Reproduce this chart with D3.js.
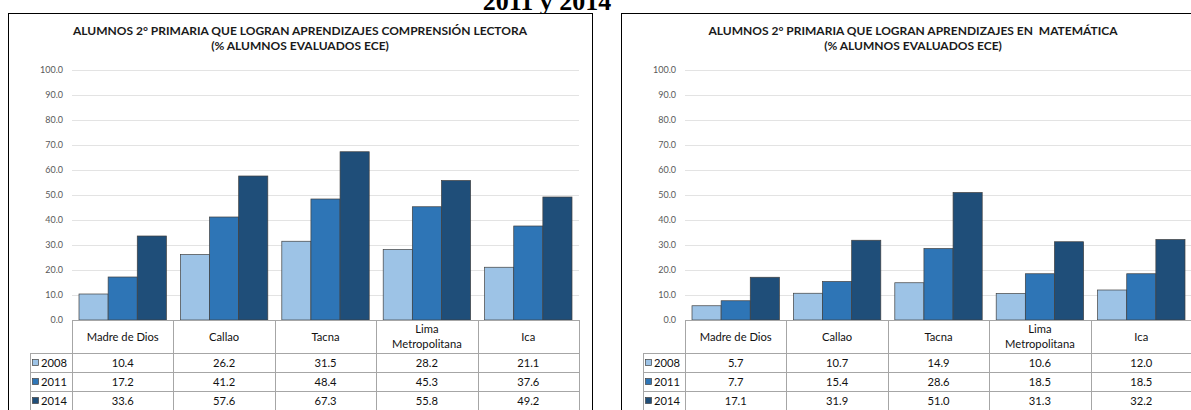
<!DOCTYPE html>
<html>
<head>
<meta charset="utf-8">
<script src="https://cdn.jsdelivr.net/npm/d3@7"></script>
<style>
  html, body { margin: 0; padding: 0; background: #fff; }
  svg { display: block; }
</style>
</head>
<body>
<svg id="chart" width="1191" height="410"></svg>
<script>
// Regions and years shown in both panels
const categories = ["Madre de Dios", "Callao", "Tacna", "Lima Metropolitana", "Ica"];
const years = ["2008", "2011", "2014"];

// Comprensión lectora (% alumnos evaluados ECE)
const lectura2008 = [10.4, 26.2, 31.5, 28.2, 21.1];
const lectura2011 = [17.2, 41.2, 48.4, 45.3, 37.6];
const lectura2014 = [33.6, 57.6, 67.3, 55.8, 49.2];

// Matemática (% alumnos evaluados ECE)
const mate2008 = [5.7, 10.7, 14.9, 10.6, 12.0];
const mate2011 = [7.7, 15.4, 28.6, 18.5, 18.5];
const mate2014 = [17.1, 31.9, 51.0, 31.3, 32.2];

const yTicks = [0, 10, 20, 30, 40, 50, 60, 70, 80, 90, 100];

const colors = { "2008": "#9dc3e6", "2011": "#2e75b6", "2014": "#1f4e79" };
const fontUI = "Lato, 'Open Sans', sans-serif";

const svg = d3.select("#chart");

// Heading fragment above both panels
svg.append("text")
  .attr("x", 547).attr("y", 10)
  .attr("text-anchor", "middle")
  .attr("font-family", "'Liberation Serif', 'Times New Roman', serif")
  .attr("font-weight", "bold")
  .attr("font-size", 26)
  .text("2011 y 2014");

function drawPanel(offsetX, titleLines, seriesValues) {
  const g = svg.append("g").attr("transform", `translate(${offsetX},0)`);

  // Panel frame
  g.append("rect")
    .attr("x", 8.5).attr("y", 13.5)
    .attr("width", 584).attr("height", 420)
    .attr("fill", "#fff").attr("stroke", "#000").attr("stroke-width", 1);

  // Title
  titleLines.forEach((t, i) => {
    g.append("text")
      .attr("x", 300).attr("y", 35 + i * 15)
      .attr("text-anchor", "middle")
      .attr("font-family", fontUI)
      .attr("font-weight", "bold")
      .attr("font-size", 12)
      .attr("fill", "#1a1a1a")
      .style("white-space", "pre")
      .text(t);
  });

  const x0 = d3.scaleBand().domain(categories).range([72, 579]);
  const x1 = d3.scaleBand().domain(years).range([7, x0.bandwidth() - 7]);
  const y = d3.scaleLinear().domain([0, 100]).range([320, 70]);

  // Gridlines and value axis
  const yAxis = g.append("g")
    .attr("transform", "translate(72,0)")
    .call(d3.axisLeft(y).tickValues(yTicks).tickSize(-507).tickPadding(9).tickFormat(d3.format(".1f")));
  yAxis.select(".domain").remove();
  yAxis.selectAll(".tick line").attr("stroke", "#e3e3e3").attr("stroke-width", 1);
  yAxis.selectAll(".tick text")
    .attr("font-family", fontUI).attr("font-size", 9).attr("fill", "#595959");

  // Bars
  const rows = categories.map((c, i) => ({
    cat: c,
    vals: years.map((yr, k) => ({ year: yr, value: seriesValues[k][i] }))
  }));
  const groups = g.append("g").selectAll("g")
    .data(rows).join("g")
    .attr("transform", d => `translate(${x0(d.cat)},0)`);
  groups.selectAll("rect")
    .data(d => d.vals).join("rect")
    .attr("x", d => x1(d.year))
    .attr("y", d => y(d.value))
    .attr("width", x1.bandwidth())
    .attr("height", d => y(0) - y(d.value))
    .attr("fill", d => colors[d.year])
    .attr("stroke", "#404040")
    .attr("stroke-width", 0.7);

  // Data table under the axis
  const table = g.append("g");
  const lineColor = "#a6a6a6";
  const headerTop = 320, headerBottom = 353, rowH = 19;
  const left = 72, right = 579, legendLeft = 30;

  table.append("line")
    .attr("x1", left).attr("x2", right).attr("y1", headerTop + 0.5).attr("y2", headerTop + 0.5)
    .attr("stroke", lineColor);
  const bounds = categories.map(c => x0(c)).concat([x0.range()[1]]);
  bounds.forEach(bx => {
    table.append("line")
      .attr("x1", Math.round(bx) + 0.5).attr("x2", Math.round(bx) + 0.5)
      .attr("y1", headerTop).attr("y2", 420)
      .attr("stroke", lineColor);
  });
  for (let r = 0; r <= years.length; r++) {
    const yy = headerBottom + r * rowH + 0.5;
    table.append("line")
      .attr("x1", legendLeft).attr("x2", right).attr("y1", yy).attr("y2", yy)
      .attr("stroke", lineColor);
  }
  table.append("line")
    .attr("x1", legendLeft + 0.5).attr("x2", legendLeft + 0.5)
    .attr("y1", headerBottom).attr("y2", 420)
    .attr("stroke", lineColor);

  // Category header labels
  categories.forEach(c => {
    const cx = x0(c) + x0.bandwidth() / 2;
    const parts = c === "Lima Metropolitana" ? ["Lima", "Metropolitana"] : [c];
    parts.forEach((p, i) => {
      table.append("text")
        .attr("x", cx)
        .attr("y", parts.length === 1 ? 341 : 333 + i * 15)
        .attr("text-anchor", "middle")
        .attr("font-family", fontUI).attr("font-size", 11.2).attr("fill", "#111")
        .text(p);
    });
  });

  // Series rows: legend key + values
  years.forEach((yr, k) => {
    const rowTop = headerBottom + k * rowH;
    table.append("rect")
      .attr("x", 32.5).attr("y", rowTop + 6.5)
      .attr("width", 6).attr("height", 6)
      .attr("fill", colors[yr]).attr("stroke", "#404040").attr("stroke-width", 0.7);
    table.append("text")
      .attr("x", 41).attr("y", rowTop + 14)
      .attr("font-family", fontUI).attr("font-size", 11.2).attr("fill", "#111")
      .text(yr);
    categories.forEach((c, i) => {
      table.append("text")
        .attr("x", x0(c) + x0.bandwidth() / 2)
        .attr("y", rowTop + 14)
        .attr("text-anchor", "middle")
        .attr("font-family", fontUI).attr("font-size", 11.2).attr("fill", "#111")
        .text(d3.format(".1f")(seriesValues[k][i]));
    });
  });
}

drawPanel(0,
  ["ALUMNOS 2° PRIMARIA QUE LOGRAN APRENDIZAJES COMPRENSIÓN LECTORA", "(% ALUMNOS EVALUADOS ECE)"],
  [lectura2008, lectura2011, lectura2014]);

drawPanel(613,
  ["ALUMNOS 2° PRIMARIA QUE LOGRAN APRENDIZAJES EN  MATEMÁTICA", "(% ALUMNOS EVALUADOS ECE)"],
  [mate2008, mate2011, mate2014]);
</script>
</body>
</html>
